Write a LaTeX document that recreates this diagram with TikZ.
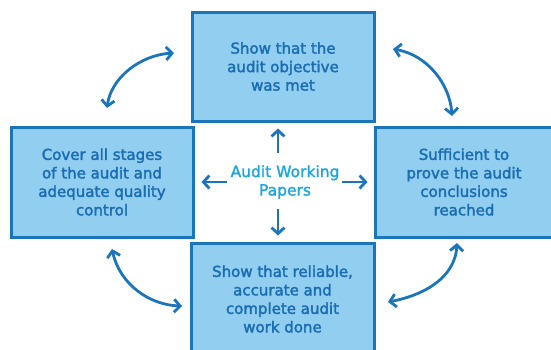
\documentclass[tikz,border=0pt]{standalone}
\usepackage{fontspec}
\setmainfont{DejaVu Sans}
\newfontfamily\lblfont{DejaVu Sans}[FakeBold=2.2]
\newfontfamily\cenfont{DejaVu Sans}[FakeBold=1.6]
\usetikzlibrary{arrows.meta}
\definecolor{boxfill}{HTML}{92CEF0}
\definecolor{boxline}{HTML}{1B75BB}
\definecolor{boxtext}{HTML}{1B6DB3}
\definecolor{centertext}{HTML}{1AA6DF}
\tikzset{
  box/.style={draw=boxline, fill=boxfill, line width=3pt, align=center,
    text=boxtext, font=\lblfont\fontsize{15}{18.5}\selectfont, inner sep=0pt},
  arr/.style={draw=boxline, line width=2.8pt, -{Straight Barb[length=6pt,width=13pt,line width=2.8pt]}},
  darr/.style={draw=boxline, line width=2.8pt, {Straight Barb[length=6pt,width=13pt,line width=2.8pt]}-{Straight Barb[length=6pt,width=13pt,line width=2.8pt]}}
}
\begin{document}
\begin{tikzpicture}[x=1pt,y=-1pt]
\useasboundingbox (0,0) rectangle (551,349);
\begin{scope}
\clip (0,0) rectangle (551,349);
\node[box, minimum width=182pt, minimum height=109pt] (top) at (283,66.5)
  {Show that the\\audit objective\\was met};
\node[box, minimum width=182pt, minimum height=110pt] (left) at (102,182)
  {Cover all stages\\of the audit and\\adequate quality\\control};
\node[box, minimum width=178pt, minimum height=110pt] (right) at (464,182)
  {Sufficient to\\prove the audit\\conclusions\\reached};
\node[box, minimum width=183pt, minimum height=112pt] (bottom) at (282.5,299)
  {Show that reliable,\\accurate and\\complete audit\\work done};
\end{scope}
\node[align=center, text=centertext, font=\cenfont\fontsize{15.5}{18.5}\selectfont, inner sep=0pt] (center) at (285,182)
  {Audit Working\\Papers};
% centre arrows
\coordinate (cu) at (278,153);
\coordinate (cd) at (278,209);
\coordinate (cl) at (227,182);
\coordinate (cr) at (342,182);
\draw[arr, shorten >=6pt] (cu) -- (cu |- top.south);
\draw[arr, shorten >=6pt] (cd) -- (cd |- bottom.north);
\draw[arr, shorten >=7pt] (cl) -- (cl -| left.east);
\draw[arr, shorten >=6pt] (cr) -- (cr -| right.west);
% curved arrows
\coordinate (tl1) at (107,108);
\coordinate (tl2) at (174,53);
\coordinate (tr1) at (393,49);
\coordinate (tr2) at (452,116);
\coordinate (bl1) at (112,249);
\coordinate (bl2) at (182,306);
\coordinate (br1) at (457,243);
\coordinate (br2) at (388,302);
\draw[darr] (tl1) .. controls (111,78) and (140,55) .. (tl2);
\draw[darr] (tr1) .. controls (428,55) and (450,85) .. (tr2);
\draw[darr] (bl1) .. controls (120,285) and (150,305) .. (bl2);
\draw[darr] (br1) .. controls (455,280) and (420,296) .. (br2);
\end{tikzpicture}
\end{document}
